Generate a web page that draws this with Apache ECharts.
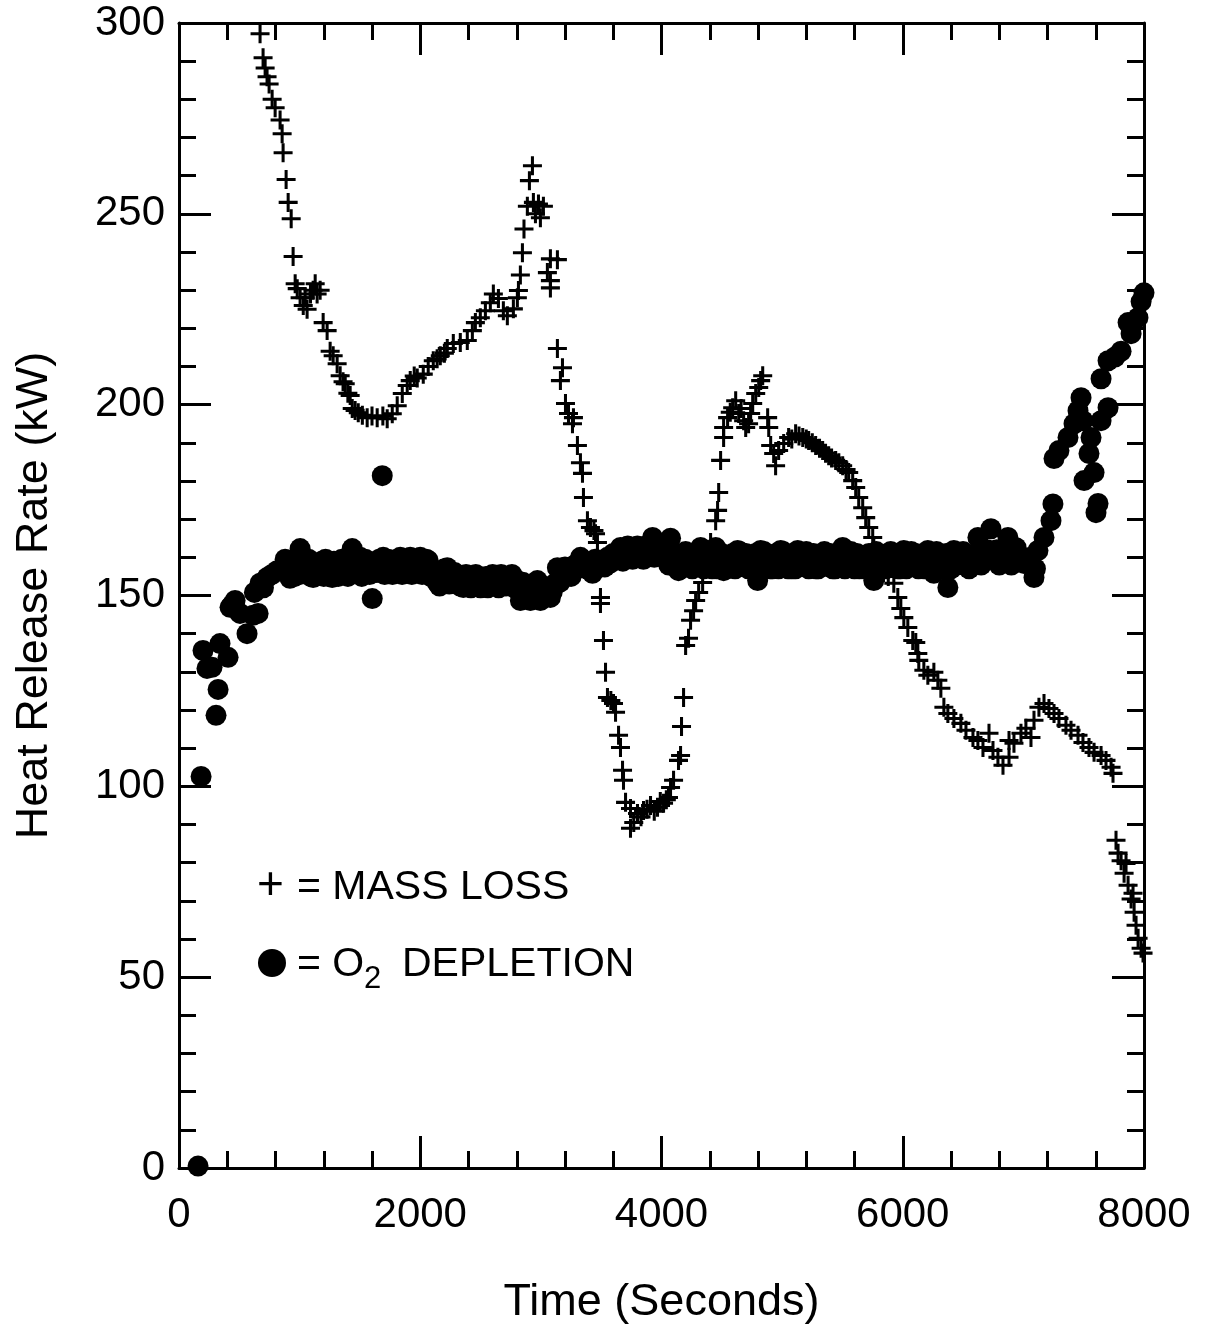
<!DOCTYPE html>
<html>
<head>
<meta charset="utf-8">
<script src="https://cdn.jsdelivr.net/npm/echarts@6/dist/echarts.min.js"></script>
<style>
html,body{margin:0;padding:0;background:#fff;}
#chart{width:1211px;height:1332px;}
</style>
</head>
<body>
<div id="chart"></div>
<script>
// ---- Data (time in s, heat release rate in kW) ----
var xTicks = [0, 2000, 4000, 6000, 8000];
var yTicks = [0, 50, 100, 150, 200, 250, 300];
var xTitle = 'Time (Seconds)';
var yTitle = 'Heat Release Rate (kW)';

var massLoss = [
[672,297.2],[697,290.9],[714,288.2],[730,285.9],[747,284],[772,280],[797,277.8],[838,274.6],[855,271],[863,266],
[888,259],[905,253],[930,248.7],[946,238.8],[963,231.7],[980,230.4],[1004,228],[1030,226],[1046,228],[1062,225],
[1090,229],[1112,230],[1129,231.7],[1145,229],[1170,230],[1195,221.5],[1228,219.4],[1253,214],[1278,212.8],[1311,210.7],
[1336,207.6],[1360,206],[1378,205.5],[1400,203],[1419,202.4],[1436,199],[1460,198.5],[1486,197.9],[1520,197.2],[1560,196.6],
[1600,197],[1643,196.6],[1690,197],[1726,196.3],[1768,197.6],[1809,199.7],[1851,202.9],[1892,205],[1917,206.3],[1950,207.5],
[1975,207],[2025,208],[2066,210],[2108,211.5],[2140,212],[2166,212.8],[2200,213.5],[2224,214.7],[2274,216],[2332,216.3],
[2390,216.8],[2432,219.4],[2457,221.5],[2498,222.8],[2540,224.6],[2581,226.7],[2606,229],[2648,227.8],[2689,224.6],[2722,223.3],
[2772,225.1],[2805,228],[2814,229.9],[2830,234],[2847,239.8],[2860,246],[2888,252],[2905,258.7],[2930,262.6],[2938,253],
[2955,250],[2980,252.6],[2996,249],[3021,252],[3054,234.6],[3079,238.2],[3079,232.5],[3079,230.6],[3137,238],[3137,214.7],
[3162,206.3],[3179,209.7],[3204,200.3],[3229,197.7],[3262,195],[3270,196.6],[3303,189.3],[3328,184.8],[3345,182],[3353,175.7],
[3386,169.6],[3411,167.8],[3440,167],[3453,166.2],[3469,163.9],[3494,149.5],[3494,147.9],[3519,138.2],[3536,129.9],[3552,123.3],
[3580,122.5],[3602,121.7],[3619,119.4],[3644,113.4],[3660,110.2],[3677,104.2],[3685,101.6],[3702,95.8],[3743,94.2],[3743,89],
[3770,90.5],[3801,92.9],[3830,92],[3851,93.7],[3880,94],[3909,95],[3940,93.5],[3967,94.5],[3990,96],[4017,95.6],
[4040,96.5],[4058,97.1],[4075,99.7],[4100,101.6],[4141,106.8],[4158,108.1],[4166,115.7],[4183,123.3],[4200,136.9],[4224,138.8],
[4241,143.5],[4266,146],[4283,148.7],[4308,150.8],[4341,153.4],[4370,158],[4407,163.9],[4449,169.6],[4465,172.3],[4474,177],
[4490,185.4],[4515,191.4],[4515,194],[4548,196.6],[4570,198],[4590,199.2],[4615,201],[4640,197.7],[4660,199],[4681,195.8],
[4698,194],[4722,195],[4739,197.7],[4756,200.3],[4781,202.9],[4806,204.5],[4822,206.3],[4839,207.6],[4880,196.6],[4889,194],
[4905,189.3],[4930,187.2],[4946,184],[4971,188],[5013,189.8],[5054,191.4],[5080,191],[5112,192.4],[5140,191.8],[5171,191.4],
[5200,191],[5220,190.6],[5250,190],[5278,189.3],[5310,188.6],[5336,188],[5360,187.3],[5386,186.6],[5410,186],[5444,185.4],
[5470,184.8],[5502,184],[5530,183],[5552,182.2],[5585,180.1],[5610,178.3],[5635,175.7],[5668,173],[5693,170.4],[5718,167.8],
[5751,165.2],[5760,162.6],[5776,160],[5800,158],[5840,156],[5880,155],[5926,153.2],[5959,149.5],[5984,146.6],[6009,144.2],
[6042,141.6],[6083,138.2],[6108,137.7],[6125,134.8],[6133,133],[6175,130.4],[6208,129.1],[6258,129.9],[6291,127.8],[6316,125.7],
[6341,120.7],[6374,119.1],[6424,117.8],[6482,116.5],[6524,114.7],[6582,112.8],[6623,112],[6665,110.2],[6715,113.9],[6748,109.4],
[6789,107.6],[6831,105.5],[6881,107.6],[6881,112],[6922,111.3],[6980,113.9],[7021,115.2],[7063,112.8],[7088,117.3],[7129,120.7],
[7171,121.7],[7212,120.4],[7254,119.1],[7295,117.8],[7353,116],[7395,114.7],[7453,113.4],[7494,111.5],[7544,110.2],[7586,108.9],
[7644,108.1],[7685,106.8],[7727,105],[7743,103.4],[7768,85.9],[7785,82.5],[7810,80.5],[7835,77.2],[7851,79.8],[7868,74.1],
[7893,70.5],[7909,72],[7918,67],[7934,63.6],[7951,60.2],[7976,57.6],[7992,56.3]
];

var o2Depletion = [
[158,0.5],[183,102.6],[199,135.6],[232,130.9],[274,131.2],[307,118.6],[324,125.4],[340,137.4],[407,133.8],[423,146.9],
[440,147.5],[465,148.7],[506,145.3],[564,140],[614,144.8],[625,150.8],[656,145.3],[672,153.2],[700,152],[730,154.7],
[770,155.5],[813,156.5],[863,157.3],[900,157],[940,156],[980,159],[1004,162.3],[1029,158.4],[1060,156],[1090,155],
[1112,154.7],[1140,158],[1170,157.3],[1200,155],[1230,156],[1270,154.7],[1300,157],[1336,158.4],[1370,156],[1400,155],
[1436,162.3],[1470,158],[1502,160],[1530,157],[1560,156.5],[1602,149.2],[1620,157],[1685,181.4],[1693,160],[1720,157],
[1751,156.5],[1790,158],[1834,160],[1870,156],[1917,160],[1950,156],[2000,160],[2030,157],[2066,159.2],[2100,156],
[2141,153.4],[2180,155],[2224,157.3],[2260,154],[2307,153.4],[2357,152.1],[2400,154],[2440,153],[2473,153.9],[2520,152.5],
[2581,153.2],[2630,152.5],[2689,153.9],[2740,153],[2805,153.9],[2830,148.7],[2870,150],[2913,148.7],[2950,150],[2971,153.9],
[2996,148.7],[3040,151],[3079,149.5],[3110,153],[3137,157.3],[3187,155.8],[3230,156],[3280,158],[3328,160],[3380,157],
[3428,155.8],[3470,158],[3510,159],[3552,160],[3600,161],[3660,162.6],[3700,160],[3743,161.8],[3780,162],[3826,160],
[3870,163],[3926,165.2],[3960,163],[4009,163.6],[4017,160],[4075,165],[4110,160],[4141,156.5],[4180,159],[4230,160],
[4280,158],[4324,162.6],[4382,159.2],[4420,157],[4449,162.6],[4480,158],[4515,156.5],[4560,160],[4631,161.8],[4680,158],
[4720,157],[4760,160],[4797,153.9],[4822,161.8],[4870,158],[4920,157],[4988,161.8],[5030,158],[5080,157],[5129,161.8],
[5180,159],[5237,158.4],[5280,157],[5330,160],[5378,158.4],[5420,157],[5460,160],[5502,162.6],[5550,158],[5600,157],
[5652,158.4],[5700,160],[5760,153.9],[5800,158],[5840,160],[5876,161],[5920,158],[5960,157],[6009,161.8],[6050,159],
[6092,158.4],[6150,160],[6208,161.8],[6258,155.8],[6300,158],[6340,160],[6374,152.1],[6424,161.8],[6480,159],[6530,160],
[6590,158.4],[6623,165.2],[6680,160],[6731,167.5],[6780,162],[6820,160],[6872,165.2],[6922,161.8],[6980,159.2],[7005,158.4],
[7060,160],[7088,154.7],[7121,161.8],[7171,165.2],[7229,169.6],[7245,174],[7254,185.9],[7295,188],[7370,191.4],[7420,195],
[7453,198.4],[7478,201.8],[7494,195.8],[7503,180.1],[7544,187.2],[7561,191.4],[7586,182.2],[7602,171.7],[7619,174.1],[7644,195.8],
[7644,206.8],[7702,199.2],[7702,211.5],[7760,212.5],[7810,214],[7868,221.5],[7893,218.6],[7950,222.8],[7976,227],[8000,229.3],
// additional readings inside the dense band
[880,159.5],[920,154.5],[960,155],[1000,155.5],[1045,159],[1075,159.5],[1100,158.8],[1125,155],[1155,155.5],[1185,159],
[1215,159.5],[1245,155],[1285,159],[1320,155],[1350,159.5],[1385,159],[1420,155.5],[1455,156],[1485,159.5],
[1515,155],[1545,159.5],[1580,155.5],[1640,156],[1660,159.5],[1705,155.5],[1735,159.5],[1770,155.5],[1810,159.5],[1850,155.5],
[1890,159.5],[1930,155.5],[1970,159.5],[2015,155.5],[2050,159.5],[2085,155],
[2120,156],[2160,152.5],[2200,157],[2240,153],[2285,156],[2330,152.5],[2380,155.5],[2420,152],[2460,155.5],[2500,152],
[2545,155],[2560,152],[2600,155.5],[2650,152],[2670,155.5],[2710,152.5],[2760,155.5],[2780,152],
[2850,153.5],[2890,150],[2930,153],[2960,149.5],[3010,152.5],[3060,152],[3095,151],
[3160,153.5],[3200,157.5],[3250,155],[3300,157],[3350,158],[3400,157],[3450,159.5],[3490,157.5],
[3530,157.5],[3575,158.5],[3630,160],[3680,159],[3720,163],[3760,159.5],[3800,163],[3850,159.5],[3900,161],[3940,160],
[3985,161],[4040,161.5],[4060,158],
[4125,161],[4160,157],[4200,161.5],[4255,157],[4300,161],[4350,157],[4400,161.5],[4460,157],[4500,161],[4540,157],
[4590,161],[4610,157],[4650,161.5],[4700,161],[4740,157],[4780,161],[4800,157],[4850,161.5],[4900,157],[4950,161],
[4970,157],[5010,161.5],[5050,157],[5100,161],[5110,157],[5150,158],[5200,161.5],[5220,157],[5260,161],[5300,157],
[5350,161.5],[5400,161],[5440,157],[5480,161],[5520,157],[5570,161.5],[5620,161],[5640,157],[5680,157],[5720,161],
[5740,157],[5780,161.5],[5820,157],[5860,157],[5900,161.5],[5940,161],[5980,157],[6030,157],[6070,161.5],[6110,161],
[6130,157],[6180,157],[6230,161],[6280,161.5],[6320,157],[6360,161],[6400,157],[6450,158],[6500,161.5],[6550,157],
[6610,161],[6650,158],[6700,162],[6750,161],[6800,158],[6850,161],[6900,158],[6940,162.5],[7030,159],[7100,157]
];

// ---- Chart ----
var FONT = '"Liberation Sans", Arial, Helvetica, sans-serif';
var PLUS = 'path://M8.4,0H11.6V8.4H20V11.6H11.6V20H8.4V11.6H0V8.4H8.4Z';

function axisCommon(showLabel) {
  return {
    axisLine: {show: true, onZero: false, lineStyle: {color: '#000', width: 3}},
    axisTick: {show: true, inside: true, length: 32, lineStyle: {color: '#000', width: 3}},
    minorTick: {show: true, splitNumber: 5, length: 17, lineStyle: {color: '#000', width: 3}},
    splitLine: {show: false},
    minorSplitLine: {show: false},
    axisLabel: {show: showLabel, color: '#000', fontSize: 42, fontFamily: FONT,
      formatter: function (v) { return String(v); }}
  };
}

var xMin = xTicks[0], xMax = xTicks[xTicks.length - 1], xInt = xTicks[1] - xTicks[0];
var yMin = yTicks[0], yMax = yTicks[yTicks.length - 1], yInt = yTicks[1] - yTicks[0];

var xBottom = Object.assign({type: 'value', position: 'bottom', min: xMin, max: xMax, interval: xInt,
  name: xTitle, nameLocation: 'middle', nameGap: 112,
  nameTextStyle: {color: '#000', fontSize: 45, fontFamily: FONT}}, axisCommon(true));
xBottom.axisLabel.margin = 26;
var xTop = Object.assign({type: 'value', position: 'top', min: xMin, max: xMax, interval: xInt}, axisCommon(false));

var yLeft = Object.assign({type: 'value', position: 'left', min: yMin, max: yMax, interval: yInt,
  name: yTitle, nameLocation: 'middle', nameGap: 122,
  nameTextStyle: {color: '#000', fontSize: 45, fontFamily: FONT}}, axisCommon(true));
yLeft.axisLabel.margin = 14;
yLeft.axisLabel.padding = [6, 0, 0, 0];
var yRight = Object.assign({type: 'value', position: 'right', min: yMin, max: yMax, interval: yInt}, axisCommon(false));

var chart = echarts.init(document.getElementById('chart'), null, {renderer: 'canvas'});
chart.setOption({
  animation: false,
  backgroundColor: '#fff',
  grid: {left: 179, right: 67, top: 23, bottom: 164, containLabel: false},
  xAxis: [xBottom, xTop],
  yAxis: [yLeft, yRight],
  series: [
    {name: 'O2 DEPLETION', type: 'scatter', xAxisIndex: 0, yAxisIndex: 0,
     symbol: 'circle', symbolSize: 21, itemStyle: {color: '#000', opacity: 1},
     data: o2Depletion, z: 2},
    {name: 'MASS LOSS', type: 'scatter', xAxisIndex: 0, yAxisIndex: 0,
     symbol: PLUS, symbolSize: 19, itemStyle: {color: '#000', opacity: 1},
     data: massLoss, z: 3}
  ],
  graphic: [
    {type: 'text', left: 257, top: 863, style: {text: '+', fill: '#000', font: '46px ' + FONT}},
    {type: 'text', left: 297, top: 867, style: {text: '= MASS LOSS', fill: '#000', font: '41px ' + FONT}},
    {type: 'circle', shape: {cx: 272, cy: 963, r: 14}, style: {fill: '#000'}},
    {type: 'text', left: 297, top: 944, style: {text: '= O', fill: '#000', font: '41px ' + FONT}},
    {type: 'text', left: 364, top: 964, style: {text: '2', fill: '#000', font: '31px ' + FONT}},
    {type: 'text', left: 402, top: 944, style: {text: 'DEPLETION', fill: '#000', font: '41px ' + FONT}}
  ]
});
</script>
</body>
</html>
